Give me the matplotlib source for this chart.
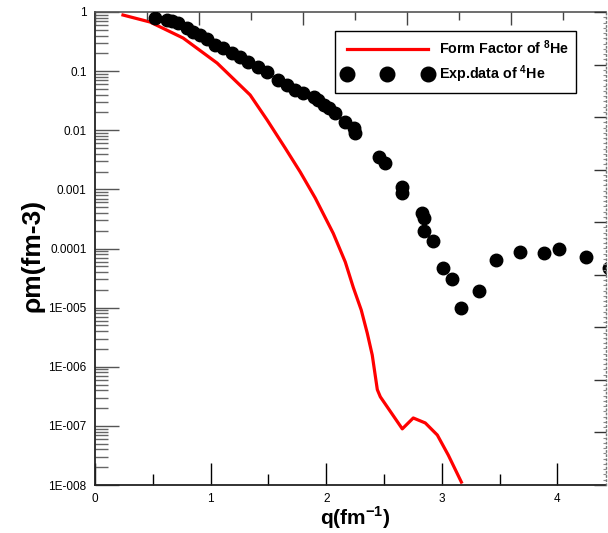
import matplotlib
matplotlib.use("Agg")
import matplotlib.pyplot as plt
from matplotlib.lines import Line2D
from matplotlib.ticker import FixedLocator, NullFormatter, MultipleLocator

plt.rcParams['font.family'] = ['Liberation Sans', 'DejaVu Sans']
plt.rcParams['mathtext.fontset'] = 'custom'
plt.rcParams['mathtext.rm'] = 'Liberation Sans'
plt.rcParams['mathtext.bf'] = 'Liberation Sans:bold'

# Calculated form factor of 8He
ff_q = [0.242, 0.476, 0.762, 1.056, 1.342, 1.489, 1.645, 1.775, 1.905, 2.061,
        2.165, 2.234, 2.303, 2.355, 2.398, 2.442, 2.468, 2.658, 2.753, 2.857,
        2.961, 3.056, 3.169]
ff_rho = [0.889, 0.677, 0.363, 0.137, 0.0395, 0.0149, 0.0050, 1.97e-3, 7.15e-4, 1.8e-4,
          5.9e-5, 2.2e-5, 9.1e-6, 3.7e-6, 1.58e-6, 4.1e-7, 3.1e-7, 8.9e-8, 1.36e-7, 1.12e-7,
          7.0e-8, 3.2e-8, 1.12e-8]

# Experimental data of 4He
exp_q = [0.519, 0.621, 0.664, 0.721, 0.794, 0.851, 0.909, 0.967, 1.039, 1.111,
         1.184, 1.255, 1.327, 1.414, 1.487, 1.587, 1.660, 1.732, 1.801, 1.890,
         1.933, 1.977, 2.020, 2.078, 2.165, 2.236, 2.251, 2.453, 2.511, 2.655,
         2.655, 2.829, 2.842, 2.842, 2.924, 3.007, 3.088, 3.169, 3.319, 3.472,
         3.680, 3.881, 4.011, 4.251, 4.45]
exp_rho = [0.782, 0.732, 0.713, 0.644, 0.530, 0.465, 0.408, 0.345, 0.277, 0.243,
           0.200, 0.175, 0.144, 0.119, 0.0978, 0.0708, 0.0582, 0.048, 0.0427, 0.0369,
           0.0325, 0.0267, 0.0235, 0.0194, 0.0140, 0.0108, 0.0089, 0.00357, 0.00276, 0.00111,
           8.8e-4, 3.94e-4, 3.24e-4, 2.0e-4, 1.34e-4, 4.6e-5, 3.05e-5, 1.0e-5, 1.91e-5, 6.4e-5,
           8.8e-5, 8.3e-5, 9.7e-5, 7.1e-5, 4.6e-5]

y_tick_values = [1, 0.1, 0.01, 0.001, 1e-4, 1e-5, 1e-6, 1e-7, 1e-8]
y_tick_labels = ['1', '0.1', '0.01', '0.001', '0.0001', '1E-005', '1E-006', '1E-007', '1E-008']
x_tick_values = [0, 1, 2, 3, 4]
x_tick_labels = ['0', '1', '2', '3', '4']

W, H = 608, 533
fig = plt.figure(figsize=(W / 100, H / 100), dpi=100)
L, R, T, B = 95, 606, 12, 485
ax = fig.add_axes([L / W, (H - B) / H, (R - L) / W, (B - T) / H])

ax.set_yscale('log')
ax.set_xlim(0, 4.42)
ax.set_ylim(1e-8, 1)

ax.plot(ff_q, ff_rho, color='#ff0000', lw=2.3, zorder=3, solid_joinstyle='round')
ax.plot(exp_q, exp_rho, ls='none', marker='o', ms=9, color='black', zorder=4)

# left axis ticks
ax.yaxis.set_major_locator(FixedLocator(y_tick_values))
ax.set_yticklabels(y_tick_labels)
minors = [m * 10.0 ** e for e in range(-8, 0) for m in range(2, 10)]
ax.yaxis.set_minor_locator(FixedLocator(minors))
ax.yaxis.set_minor_formatter(NullFormatter())
ax.tick_params(axis='y', which='major', direction='in', length=17, width=1.0,
               color='#555555', labelsize=8.5, pad=6, right=False)
ax.tick_params(axis='y', which='minor', direction='in', length=9, width=1.0,
               color='#666666', right=False)

# bottom axis ticks
ax.set_xticks(x_tick_values)
ax.set_xticklabels(x_tick_labels)
ax.xaxis.set_minor_locator(MultipleLocator(0.5))
ax.tick_params(axis='x', which='major', direction='in', length=16, width=1.0,
               color='black', labelsize=8.5, pad=6, top=False)
ax.tick_params(axis='x', which='minor', direction='in', length=8, width=1.0,
               color='black', top=False)

for s in ('left', 'bottom'):
    ax.spines[s].set_color('#222222')
    ax.spines[s].set_linewidth(1.3)
ax.spines['top'].set_color('#555555')
ax.spines['top'].set_linewidth(1.2)
ax.spines['right'].set_visible(False)

# secondary top axis
axt = ax.twiny()
axt.set_xlim(0, (R - L) / 52.0)
axt.xaxis.set_major_locator(MultipleLocator(2))
axt.xaxis.set_minor_locator(MultipleLocator(1))
axt.tick_params(axis='x', which='major', direction='in', length=9, width=1.0,
                color='#444444', labeltop=False, top=True)
axt.tick_params(axis='x', which='minor', direction='in', length=6, width=1.0,
                color='#444444', top=True)
for s in axt.spines.values():
    s.set_visible(False)

# secondary right axis
axr = ax.twinx()
axr.set_ylim(0, 9)
axr.yaxis.set_major_locator(MultipleLocator(1))
axr.yaxis.set_minor_locator(MultipleLocator(0.1))
axr.tick_params(axis='y', which='major', direction='in', length=9, width=1.0,
                color='#333333', labelright=False, right=True)
axr.tick_params(axis='y', which='minor', direction='in', length=2, width=0.8,
                color='#888888', right=True)
for s in ('left', 'top', 'bottom'):
    axr.spines[s].set_visible(False)
axr.spines['right'].set_linestyle((0, (1, 2)))
axr.spines['right'].set_color('#777777')
axr.spines['right'].set_linewidth(1.0)

ax.set_xlabel('q(fm$^{\\mathbf{-1}}$)', fontsize=15, fontweight='bold')
ax.xaxis.set_label_coords(0.509, -0.040)
ax.set_ylabel('ρm(fm-3)', fontsize=19, fontweight='bold')
ax.yaxis.set_label_coords(-0.098, 0.486)

handles = [Line2D([], [], color='#ff0000', lw=2.3),
           Line2D([], [], ls='none', marker='o', ms=10.5, color='black')]
labels = ['Form Factor of $^{\\mathbf{8}}$He', 'Exp.data of $^{\\mathbf{4}}$He']
leg = ax.legend(handles, labels, loc='upper left', bbox_to_anchor=(0.470, 0.960),
                borderaxespad=0, numpoints=3, handlelength=6.3, handletextpad=0.45,
                frameon=True, fancybox=False, edgecolor='black', framealpha=1,
                prop={'weight': 'bold', 'size': 10.3}, borderpad=0.5, labelspacing=0.5)
leg.get_frame().set_linewidth(1.0)
leg.set_zorder(10)

fig.savefig('out.png', dpi=100)
